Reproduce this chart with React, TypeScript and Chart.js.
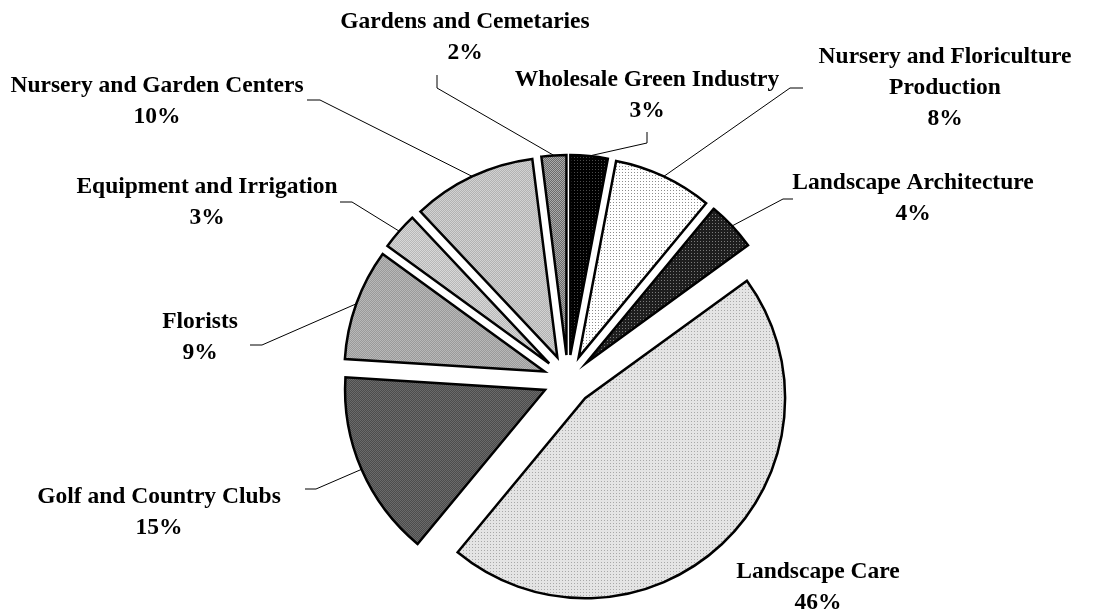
import React, { useEffect, useRef } from "react";
import { Chart, registerables } from "chart.js";

Chart.register(...registerables);

// ---- data ----
const categories: (string | string[])[] = [
  "Wholesale Green Industry",
  ["Nursery and Floriculture", "Production"],
  "Landscape Architecture",
  "Landscape Care",
  "Golf and Country Clubs",
  "Florists",
  "Equipment and Irrigation",
  "Nursery and Garden Centers",
  "Gardens and Cemetaries",
];
const shares = [3, 8, 4, 46, 15, 9, 3, 10, 2];

// ---- styles ----
type Tex = { kind: "dots" | "check"; base: string; dot: string };
const textures: Tex[] = [
  { kind: "dots", base: "#000000", dot: "#4a4a4a" },
  { kind: "dots", base: "#ffffff", dot: "#8c8c8c" },
  { kind: "dots", base: "#1e1e1e", dot: "#7a7a7a" },
  { kind: "dots", base: "#e4e4e4", dot: "#a8a8a8" },
  { kind: "check", base: "#4c4c4c", dot: "#6a6a6a" },
  { kind: "check", base: "#9a9a9a", dot: "#b8b8b8" },
  { kind: "check", base: "#b8b8b8", dot: "#d8d8d8" },
  { kind: "check", base: "#b2b2b2", dot: "#d2d2d2" },
  { kind: "check", base: "#6a6a6a", dot: "#aaaaaa" },
];

const EXPLODE = 25;
const RADIUS = 200;
const FONT = 'bold 23.5px "Liberation Serif", "Times New Roman", serif';
const LINE_H = 31;

// label placement (annotation layout): first-line centre and leader elbow points
const labelLayout: { x: number; y: number; leader: number[][] }[] = [
  { x: 647, y: 80, leader: [[647, 132], [647, 143]] },
  { x: 945, y: 57, leader: [[803, 88], [790, 88]] },
  { x: 913, y: 183, leader: [[793, 199], [783, 199]] },
  { x: 818, y: 572, leader: [] },
  { x: 159, y: 497, leader: [[305, 489], [316, 489]] },
  { x: 200, y: 322, leader: [[250, 345], [262, 345]] },
  { x: 207, y: 187, leader: [[340, 202], [352, 202]] },
  { x: 157, y: 86, leader: [[307, 100], [320, 100]] },
  { x: 465, y: 22, leader: [[437, 75], [437, 88]] },
];

function makePattern(t: Tex): CanvasPattern | string {
  const c = document.createElement("canvas");
  const n = t.kind === "dots" ? 3 : 2;
  c.width = n;
  c.height = n;
  const g = c.getContext("2d");
  if (!g) return t.base;
  g.fillStyle = t.base;
  g.fillRect(0, 0, n, n);
  g.fillStyle = t.dot;
  if (t.kind === "dots") {
    g.fillRect(1, 1, 1, 1);
  } else {
    g.fillRect(0, 0, 1, 1);
    g.fillRect(1, 1, 1, 1);
  }
  const p = g.createPattern(c, "repeat");
  return p || t.base;
}

const explodePlugin = {
  id: "explode",
  afterDatasetsUpdate(chart: any) {
    const meta = chart.getDatasetMeta(0);
    meta.data.forEach((arc: any) => {
      const mid = (arc.startAngle + arc.endAngle) / 2;
      arc.x += Math.cos(mid) * EXPLODE;
      arc.y += Math.sin(mid) * EXPLODE;
    });
  },
};

const labelPlugin = {
  id: "sliceLabels",
  afterDraw(chart: any) {
    const ctx: CanvasRenderingContext2D = chart.ctx;
    const meta = chart.getDatasetMeta(0);
    ctx.save();
    meta.data.forEach((arc: any, i: number) => {
      const L = labelLayout[i];
      if (!L) return;
      const name = categories[i];
      const lines = (Array.isArray(name) ? name.slice() : [name]).concat([shares[i] + "%"]);
      ctx.font = FONT;
      ctx.fillStyle = "#000";
      ctx.textAlign = "center";
      ctx.textBaseline = "middle";
      lines.forEach((ln, k) => ctx.fillText(ln, L.x, L.y + k * LINE_H));
      if (L.leader.length) {
        const mid = (arc.startAngle + arc.endAngle) / 2;
        const ex = arc.x + Math.cos(mid) * arc.outerRadius;
        const ey = arc.y + Math.sin(mid) * arc.outerRadius;
        ctx.beginPath();
        ctx.moveTo(L.leader[0][0], L.leader[0][1]);
        for (let k = 1; k < L.leader.length; k++) ctx.lineTo(L.leader[k][0], L.leader[k][1]);
        ctx.lineTo(ex, ey);
        ctx.lineWidth = 1;
        ctx.strokeStyle = "#000";
        ctx.stroke();
      }
    });
    ctx.restore();
  },
};

export default function App() {
  const ref = useRef<HTMLCanvasElement | null>(null);
  useEffect(() => {
    if (!ref.current) return;
    const fills = textures.map(makePattern);
    const chart = new Chart(ref.current, {
      type: "pie",
      data: {
        labels: categories as any,
        datasets: [
          {
            data: shares,
            backgroundColor: fills as any,
            borderColor: "#000",
            borderWidth: 2.5,
            borderJoinStyle: "miter",
          } as any,
        ],
      },
      options: {
        animation: false,
        responsive: true,
        maintainAspectRatio: false,
        events: [],
        radius: RADIUS,
        layout: { padding: { left: 42, right: 0, top: 147, bottom: 0 } },
        plugins: {
          legend: { display: false },
          tooltip: { enabled: false },
          title: { display: false },
        },
      } as any,
      plugins: [explodePlugin, labelPlugin],
    });
    return () => chart.destroy();
  }, []);
  return (
    <div style={{ position: "fixed", left: 0, top: 0, width: 1094, height: 613, background: "#fff" }}>
      <canvas ref={ref} />
    </div>
  );
}
